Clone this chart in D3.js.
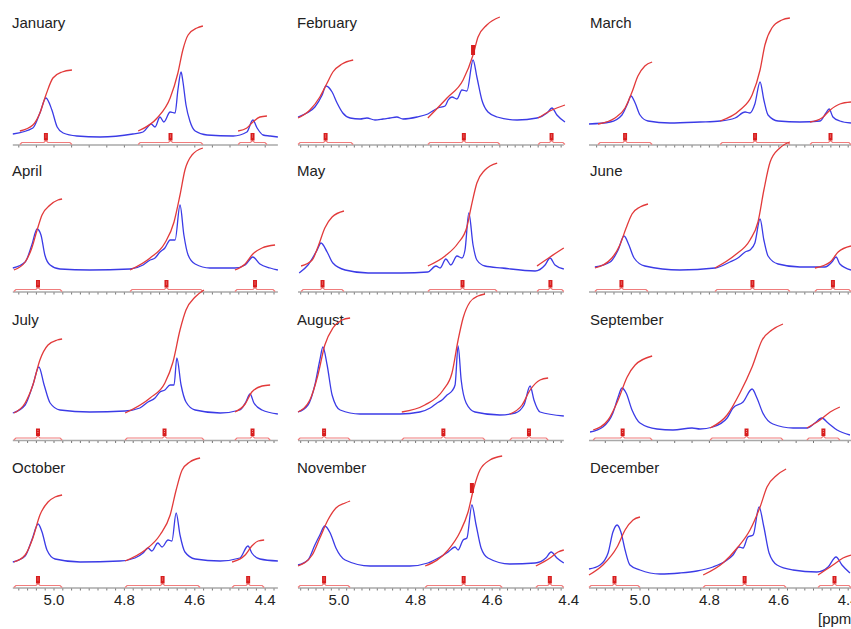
<!DOCTYPE html>
<html>
<head>
<meta charset="utf-8">
<script src="https://cdn.jsdelivr.net/npm/d3@7"></script>
<style>
    body { margin: 0; background: #fff; }
    svg { display: block; overflow: hidden; }
    text { font-family: "Liberation Sans", Arial, sans-serif; fill: #222; }
</style>
</head>
<body>
<div id="chart"></div>
<script>
// chemical shift [ppm], intensity (arbitrary units)
var months = ["January", "February", "March", "April", "May", "June",
    "July", "August", "September", "October", "November", "December"];

var janSpec = [[5.117,9],[5.060,15],[5.040,30],[5.023,45],[5.006,33],[4.991,16],[4.974,10],[4.935,7],[4.869,6],[4.776,9],[4.747,11],[4.724,19],[4.713,16],[4.699,26],[4.688,21],[4.670,31],[4.656,30],[4.648,53],[4.639,71],[4.634,62],[4.625,38],[4.614,22],[4.599,12],[4.565,8],[4.491,7],[4.452,11],[4.435,23],[4.423,15],[4.406,8],[4.386,7],[4.364,6]];
var janInt = [
    [[5.097,12],[5.060,18],[5.040,30],[5.023,48],[5.003,65],[4.977,71],[4.949,73]],
    [[4.761,12],[4.707,25],[4.670,45],[4.648,70],[4.634,93],[4.619,108],[4.594,115],[4.577,117]],
    [[4.477,12],[4.452,15],[4.435,21],[4.415,26],[4.395,27]]
];

var febSpec = [[5.107,26],[5.084,30],[5.063,36],[5.044,48],[5.034,57],[5.018,51],[5.005,40],[4.990,30],[4.971,25],[4.945,24],[4.927,25],[4.906,23],[4.885,24],[4.867,25],[4.849,26],[4.833,24],[4.796,26],[4.768,29],[4.742,35],[4.723,37],[4.715,43],[4.705,46],[4.692,44],[4.679,53],[4.666,52],[4.650,83],[4.640,66],[4.627,43],[4.611,31],[4.587,26],[4.535,23],[4.483,25],[4.457,30],[4.444,35],[4.431,28],[4.410,21]];
var febInt = [
    [[5.107,25],[5.076,33],[5.050,46],[5.031,60],[5.016,71],[4.992,79],[4.963,83]],
    [[4.768,25],[4.718,45],[4.676,63],[4.650,88],[4.637,106],[4.614,118],[4.580,126]],
    [[4.480,25],[4.444,33],[4.410,38]]
];

var marSpec = [[5.147,19],[5.086,21],[5.052,28],[5.035,40],[5.026,47],[5.014,40],[5.000,28],[4.977,22],[4.914,20],[4.827,21],[4.769,22],[4.726,25],[4.697,31],[4.683,30],[4.669,39],[4.654,61],[4.643,43],[4.631,28],[4.602,22],[4.539,21],[4.481,22],[4.464,30],[4.455,34],[4.444,26],[4.424,22],[4.392,20]];
var marInt = [
    [[5.121,19],[5.072,25],[5.043,35],[5.023,51],[5.006,67],[4.986,77],[4.965,81]],
    [[4.769,22],[4.712,33],[4.677,48],[4.654,73],[4.640,98],[4.620,115],[4.591,123],[4.568,125]],
    [[4.510,21],[4.476,25],[4.452,33],[4.424,39],[4.392,41]]
];

var aprSpec = [[5.117,23],[5.082,29],[5.063,46],[5.048,62],[5.037,56],[5.026,36],[5.011,26],[4.983,22],[4.898,21],[4.784,22],[4.747,26],[4.727,31],[4.713,33],[4.699,39],[4.685,43],[4.670,51],[4.656,51],[4.642,86],[4.631,56],[4.619,36],[4.599,27],[4.557,23],[4.486,23],[4.457,26],[4.435,34],[4.415,27],[4.386,23],[4.364,21]];
var aprInt = [
    [[5.114,21],[5.082,29],[5.063,43],[5.048,61],[5.034,76],[5.011,86],[4.989,91],[4.977,92]],
    [[4.784,21],[4.727,33],[4.685,48],[4.659,69],[4.642,96],[4.628,121],[4.608,136],[4.577,143]],
    [[4.486,21],[4.457,27],[4.435,37],[4.409,43],[4.372,46]]
];

var maySpec = [[5.104,18],[5.081,26],[5.057,41],[5.047,48],[5.031,39],[5.016,28],[4.984,21],[4.924,18],[4.836,18],[4.768,19],[4.747,25],[4.736,23],[4.721,32],[4.708,26],[4.692,35],[4.679,33],[4.671,41],[4.661,78],[4.650,46],[4.640,31],[4.619,25],[4.574,23],[4.488,20],[4.462,26],[4.449,33],[4.436,26],[4.413,22]];
var mayInt = [
    [[5.099,25],[5.070,31],[5.055,44],[5.037,63],[5.018,74],[4.987,80]],
    [[4.768,25],[4.723,35],[4.689,48],[4.666,64],[4.655,84],[4.640,108],[4.619,121],[4.587,128]],
    [[4.483,25],[4.449,34],[4.413,43]]
];

var junSpec = [[5.130,24],[5.086,29],[5.063,41],[5.046,55],[5.032,46],[5.017,33],[4.986,25],[4.885,21],[4.784,23],[4.741,29],[4.718,33],[4.697,39],[4.683,41],[4.669,48],[4.654,72],[4.643,51],[4.631,35],[4.602,27],[4.539,24],[4.467,24],[4.447,29],[4.435,34],[4.424,27],[4.392,21]];
var junInt = [
    [[5.130,23],[5.081,33],[5.058,46],[5.040,63],[5.023,77],[5.000,84],[4.977,87]],
    [[4.784,23],[4.726,36],[4.683,51],[4.660,69],[4.643,101],[4.625,129],[4.597,143],[4.568,149]],
    [[4.496,23],[4.452,29],[4.429,39],[4.392,45]]
];

var julSpec = [[5.117,27],[5.082,35],[5.060,55],[5.043,73],[5.028,55],[5.011,37],[4.983,30],[4.898,28],[4.798,29],[4.756,32],[4.733,38],[4.713,42],[4.699,48],[4.685,50],[4.670,55],[4.659,55],[4.651,82],[4.639,55],[4.625,38],[4.599,30],[4.528,27],[4.472,30],[4.455,38],[4.443,46],[4.432,37],[4.409,30],[4.364,26]];
var julInt = [
    [[5.114,27],[5.082,37],[5.060,55],[5.040,80],[5.017,95],[4.991,100],[4.977,101]],
    [[4.798,27],[4.727,42],[4.685,57],[4.662,78],[4.642,110],[4.625,130],[4.599,143],[4.574,150]],
    [[4.486,28],[4.457,36],[4.438,48],[4.409,54],[4.386,55]]
];

var augSpec = [[5.107,28],[5.081,35],[5.063,55],[5.050,80],[5.042,93],[5.031,75],[5.018,45],[4.997,30],[4.945,26],[4.841,26],[4.789,28],[4.762,32],[4.744,37],[4.731,40],[4.718,45],[4.705,49],[4.697,55],[4.689,94],[4.681,60],[4.668,37],[4.645,28],[4.580,25],[4.540,27],[4.517,35],[4.501,54],[4.491,40],[4.475,28],[4.413,24]];
var augInt = [
    [[5.107,28],[5.076,40],[5.055,65],[5.037,95],[5.016,112],[4.992,120],[4.971,122]],
    [[4.836,28],[4.776,35],[4.728,50],[4.705,67],[4.689,100],[4.676,122],[4.658,138],[4.637,144],[4.619,146]],
    [[4.554,26],[4.522,35],[4.501,50],[4.475,60],[4.454,62]]
];

var sepSpec = [[5.144,8],[5.107,13],[5.078,27],[5.063,43],[5.052,52],[5.040,47],[5.023,30],[5.000,17],[4.951,11],[4.905,10],[4.850,12],[4.827,11],[4.790,13],[4.749,22],[4.732,32],[4.703,38],[4.677,51],[4.663,42],[4.646,27],[4.617,16],[4.559,12],[4.519,12],[4.496,17],[4.476,22],[4.458,17],[4.432,10],[4.395,5]];
var sepInt = [
    [[5.135,10],[5.092,20],[5.063,40],[5.037,63],[5.014,75],[4.965,84]],
    [[4.798,12],[4.749,25],[4.712,47],[4.677,73],[4.648,100],[4.620,110],[4.588,116]],
    [[4.519,12],[4.481,20],[4.452,28],[4.424,33]]
];

var octSpec = [[5.117,26],[5.082,32],[5.063,48],[5.045,64],[5.034,56],[5.020,38],[4.997,29],[4.926,26],[4.813,27],[4.770,30],[4.747,35],[4.733,40],[4.722,37],[4.705,45],[4.693,41],[4.676,48],[4.665,47],[4.653,75],[4.642,53],[4.628,36],[4.599,29],[4.528,27],[4.472,30],[4.449,42],[4.438,35],[4.415,29],[4.364,27]];
var octInt = [
    [[5.114,26],[5.082,33],[5.060,50],[5.040,73],[5.017,86],[4.997,91],[4.977,93]],
    [[4.798,27],[4.741,38],[4.699,53],[4.670,73],[4.653,98],[4.636,118],[4.614,126],[4.585,130]],
    [[4.494,26],[4.457,33],[4.438,42],[4.420,47],[4.403,48]]
];

var novSpec = [[5.107,23],[5.081,28],[5.063,43],[5.050,53],[5.037,62],[5.023,55],[5.008,40],[4.984,28],[4.919,22],[4.815,22],[4.768,25],[4.736,31],[4.715,36],[4.697,41],[4.689,38],[4.676,48],[4.666,50],[4.653,83],[4.642,63],[4.629,40],[4.611,30],[4.554,24],[4.488,25],[4.460,30],[4.446,36],[4.431,30],[4.413,25]];
var novInt = [
    [[5.107,22],[5.070,33],[5.050,50],[5.029,68],[5.008,80],[4.984,85],[4.971,87]],
    [[4.775,22],[4.715,38],[4.684,56],[4.663,76],[4.648,100],[4.632,118],[4.606,128],[4.574,132]],
    [[4.486,22],[4.449,30],[4.428,36],[4.413,38]]
];

var decSpec = [[5.147,19],[5.115,23],[5.092,35],[5.078,56],[5.066,63],[5.055,56],[5.043,38],[5.029,23],[5.000,18],[4.942,14],[4.885,15],[4.836,17],[4.790,21],[4.749,28],[4.732,33],[4.715,41],[4.703,40],[4.689,51],[4.674,53],[4.657,81],[4.643,61],[4.628,35],[4.605,23],[4.559,18],[4.490,16],[4.458,21],[4.435,31],[4.418,23],[4.395,15]];
var decInt = [
    [[5.147,13],[5.107,23],[5.066,41],[5.043,58],[5.020,68],[5.000,71]],
    [[4.818,13],[4.761,25],[4.720,40],[4.683,58],[4.654,81],[4.634,101],[4.605,113],[4.579,119]],
    [[4.487,13],[4.444,23],[4.415,30],[4.392,33]]
];

// integral value flags printed on top of a peak
var peakFlags = [
    { month: "February", ppm: 4.650, value: 93 },
    { month: "November", ppm: 4.653, value: 100 }
];

var tickLabels = [5.0, 4.8, 4.6, 4.4];

var spectra = [janSpec, febSpec, marSpec, aprSpec, maySpec, junSpec,
    julSpec, augSpec, sepSpec, octSpec, novSpec, decSpec];
var integrals = [janInt, febInt, marInt, aprInt, mayInt, junInt,
    julInt, augInt, sepInt, octInt, novInt, decInt];

// layout
var width = 851, height = 629;
var colRange = [[54, 265.2], [339, 568.8], [640, 848.2]];   // pixel of 5.0 and 4.4 ppm
var colAxis = [[5.117, 4.364], [5.107, 4.413], [5.147, 4.366]];
var titleX = [12, 297, 590];
var rowZero = [143, 291, 440, 588];
var rowAxis = [145, 292, 440.5, 588];
var tickStep = [0.05, 0.02, 0.025, 0.025, 0.02, 0.025, 0.025, 0.02, 0.05, 0.025, 0.02, 0.025];

var blue = "#3b3be6", red = "#e23a3a", pink = "#f07c7c";

var svg = d3.select("#chart").append("svg")
    .attr("width", width)
    .attr("height", height);

months.forEach(function(name, i) {
    var col = i % 3, row = Math.floor(i / 3);
    var x = d3.scaleLinear().domain([5.0, 4.4]).range(colRange[col]);
    var y = d3.scaleLinear().domain([0, 100]).range([rowZero[row], rowZero[row] - 100]);
    var ay = rowAxis[row];

    var g = svg.append("g").attr("class", "panel");

    g.append("text")
        .attr("x", titleX[col])
        .attr("y", rowZero[row] - 115.5)
        .style("font-size", "15px")
        .text(name);

    // axis line and minor ticks
    g.append("line")
        .attr("x1", x(colAxis[col][0]))
        .attr("x2", x(colAxis[col][1]))
        .attr("y1", ay).attr("y2", ay)
        .attr("stroke", "#a8a8a8")
        .attr("stroke-width", 1.6);

    var step = tickStep[i];
    var ticks = d3.range(Math.ceil(colAxis[col][1] / step - 1e-6), Math.floor(colAxis[col][0] / step + 1e-6) + 1)
        .map(function(k) { return k * step; });
    g.selectAll(".tick")
        .data(ticks).enter()
        .append("line")
        .attr("class", "tick")
        .attr("x1", function(d) { return x(d); })
        .attr("x2", function(d) { return x(d); })
        .attr("y1", ay + 0.5)
        .attr("y2", ay + 2.5)
        .attr("stroke", "#555")
        .attr("stroke-width", 0.8);

    if (row === 3) {
        g.selectAll(".tick-label")
            .data(tickLabels).enter()
            .append("text")
            .attr("class", "tick-label")
            .attr("x", function(d) { return x(d); })
            .attr("y", ay + 17)
            .attr("text-anchor", "middle")
            .style("font-size", "15px")
            .text(function(d) { return d.toFixed(1); });
    }

    // integration brackets with their value boxes
    integrals[i].forEach(function(seg) {
        var x0 = x(seg[0][0]), x1 = x(seg[seg.length - 1][0]), xm = (x0 + x1) / 2;
        g.append("path")
            .attr("d", "M" + x0 + "," + (ay - 0.5) + "L" + (x0 + 2) + "," + (ay - 2.5) +
                "L" + (xm - 2) + "," + (ay - 2.5) + "L" + xm + "," + (ay - 4.5) +
                "L" + (xm + 2) + "," + (ay - 2.5) + "L" + (x1 - 2) + "," + (ay - 2.5) +
                "L" + x1 + "," + (ay - 0.5))
            .attr("fill", "none")
            .attr("stroke", pink)
            .attr("stroke-width", 1.2);
        g.append("rect")
            .attr("x", xm - 2)
            .attr("y", ay - 12)
            .attr("width", 4)
            .attr("height", 7.5)
            .attr("fill", "#d81e1e");
        g.append("line")
            .attr("x1", xm).attr("x2", xm)
            .attr("y1", ay - 10.5).attr("y2", ay - 6.5)
            .attr("stroke", "#f4b0b0")
            .attr("stroke-width", 0.8)
            .attr("stroke-dasharray", "1,1");
    });

    var line = d3.line()
        .x(function(d) { return x(d[0]); })
        .y(function(d) { return y(d[1]); })
        .curve(d3.curveMonotoneX);

    g.append("path")
        .datum(spectra[i])
        .attr("d", line)
        .attr("fill", "none")
        .attr("stroke", blue)
        .attr("stroke-width", 1.3);

    g.selectAll(".integral")
        .data(integrals[i]).enter()
        .append("path")
        .attr("class", "integral")
        .attr("d", line)
        .attr("fill", "none")
        .attr("stroke", red)
        .attr("stroke-width", 1.3);

    peakFlags.filter(function(f) { return f.month === name; }).forEach(function(f) {
        g.append("rect")
            .attr("x", x(f.ppm) - 2)
            .attr("y", y(f.value) - 5)
            .attr("width", 4)
            .attr("height", 10)
            .attr("fill", "#d81e1e");
    });
});

svg.append("text")
    .attr("x", 818)
    .attr("y", 624)
    .style("font-size", "15px")
    .text("[ppm]");
</script>
</body>
</html>
